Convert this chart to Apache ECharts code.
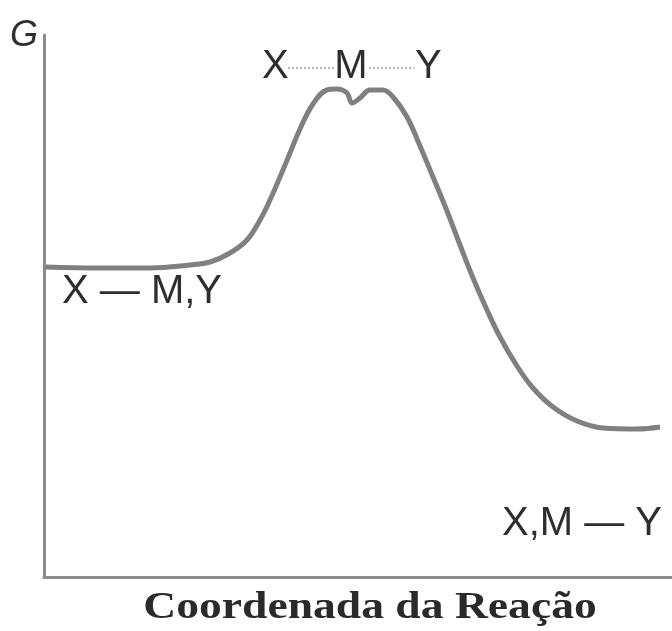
<!DOCTYPE html>
<html>
<head>
<meta charset="utf-8">
<script src="https://cdn.jsdelivr.net/npm/echarts@6/dist/echarts.min.js"></script>
<style>
  html, body { margin: 0; padding: 0; background: #fff; }
  #chart { width: 672px; height: 631px; }
</style>
</head>
<body>
<div id="chart"></div>
<script>
// coordenada da reação (arbitrary units) and energia livre G (arbitrary units)
var reactionCoord = [1, 56, 106, 146, 166, 186, 203, 216, 226, 236, 246, 256, 269, 283, 293, 303, 308, 316, 326, 339, 349, 363, 376, 389, 403, 416, 429, 443, 456, 473, 489, 509, 533, 559, 593, 616];
var freeEnergy    = [310, 309, 309, 312, 315, 324, 337, 357, 377, 400, 424, 448, 473, 487, 488, 484, 474, 479, 487, 487, 480, 460, 431, 400, 366, 332, 299, 267, 240, 211, 189, 170, 156, 149, 148, 150];

var axisTitle = 'Coordenada da Reação';
var yTitle = 'G';
var reactantLabel = 'X — M,Y';
var productLabel = 'X,M — Y';
var transitionAtoms = ['X', 'M', 'Y'];

var points = [];
for (var i = 0; i < reactionCoord.length; i++) {
    points.push([reactionCoord[i], freeEnergy[i]]);
}

var labelFont = { fontFamily: 'Liberation Sans, Arial, sans-serif', fontSize: 40, fill: '#2e2e2e' };

var chart = echarts.init(document.getElementById('chart'));
var option = {
    animation: false,
    backgroundColor: '#fff',
    grid: { left: 44, right: 0, top: 35, bottom: 54 },
    xAxis: {
        type: 'value',
        min: 0,
        max: 628,
        axisLine: { show: true, lineStyle: { color: '#8c8c8c', width: 3 } },
        axisTick: { show: false },
        axisLabel: { show: false },
        splitLine: { show: false }
    },
    yAxis: {
        type: 'value',
        min: 0,
        max: 542,
        axisLine: { show: true, lineStyle: { color: '#8c8c8c', width: 3 } },
        axisTick: { show: false },
        axisLabel: { show: false },
        splitLine: { show: false }
    },
    series: [{
        type: 'line',
        data: points,
        smooth: 0.4,
        symbol: 'none',
        lineStyle: { color: '#808080', width: 5 }
    }],
    graphic: [
        { type: 'text', left: 10, top: 18, style: { text: yTitle, font: 'italic 36px Liberation Sans, Arial, sans-serif', fill: '#2e2e2e' } },
        { type: 'text', x: 62, y: 292, style: Object.assign({ text: reactantLabel, verticalAlign: 'middle' }, labelFont) },
        { type: 'text', x: 502, y: 524, style: Object.assign({ text: productLabel, verticalAlign: 'middle' }, labelFont) },
        { type: 'text', x: 262, y: 67, style: Object.assign({ text: transitionAtoms[0], verticalAlign: 'middle' }, labelFont) },
        { type: 'text', x: 351, y: 67, style: Object.assign({ text: transitionAtoms[1], verticalAlign: 'middle', align: 'center' }, labelFont) },
        { type: 'text', x: 415, y: 67, style: Object.assign({ text: transitionAtoms[2], verticalAlign: 'middle' }, labelFont) },
        { type: 'line', shape: { x1: 288, y1: 68, x2: 334, y2: 68 }, style: { stroke: '#9a9a9a', lineWidth: 1.5, lineDash: [2, 2] } },
        { type: 'line', shape: { x1: 369, y1: 68, x2: 414, y2: 68 }, style: { stroke: '#9a9a9a', lineWidth: 1.5, lineDash: [2, 2] } },
        {
            type: 'text', x: 370, y: 608, scaleX: 1.2,
            style: { text: axisTitle, font: 'bold 38px Liberation Serif, Times New Roman, serif', fill: '#2a2a2a', align: 'center', verticalAlign: 'middle' }
        }
    ]
};
chart.setOption(option);
</script>
</body>
</html>
